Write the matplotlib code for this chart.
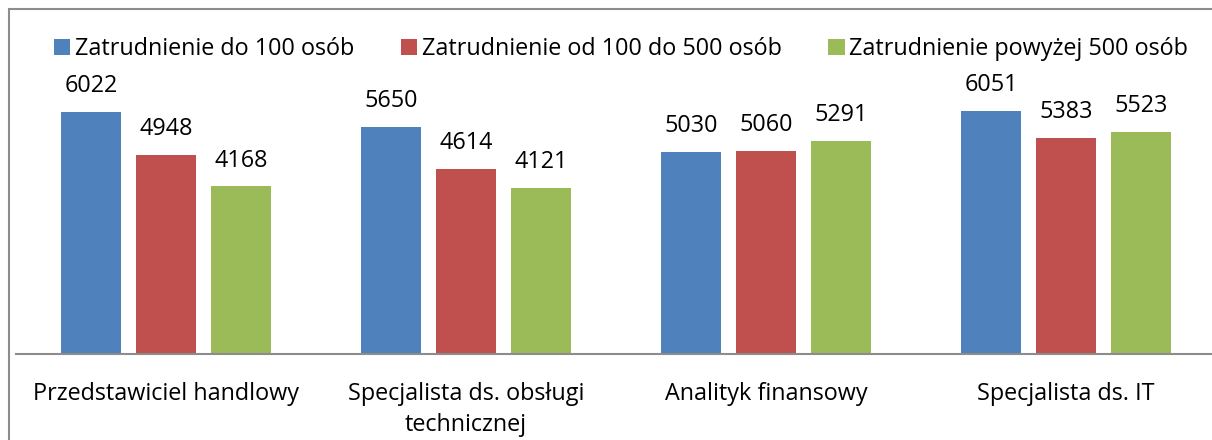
import matplotlib
matplotlib.use("Agg")
import matplotlib.pyplot as plt
import numpy as np
from matplotlib.patches import Rectangle

categories = ["Przedstawiciel handlowy", "Specjalista ds. obsługi\ntechnicznej",
              "Analityk finansowy", "Specjalista ds. IT"]
series_names = ["Zatrudnienie do 100 osób", "Zatrudnienie od 100 do 500 osób",
                "Zatrudnienie powyżej 500 osób"]
small = [6022, 5650, 5030, 6051]
medium = [4948, 4614, 5060, 5383]
large = [4168, 4121, 5291, 5523]
colors = ["#4F81BD", "#C0504D", "#9BBB59"]

plt.rcParams['font.family'] = ['Open Sans', 'DejaVu Sans']
FS = 16.8

W, H = 1212, 440
fig = plt.figure(figsize=(W / 100, H / 100), dpi=100)
ax = fig.add_axes([16 / W, (H - 354) / H, 1200 / W, 281.4 / H])

x = np.arange(len(categories))
bw = 0.2
step = 0.25
handles = []
for i, (vals, name, c) in enumerate(zip([small, medium, large], series_names, colors)):
    bars = ax.bar(x + (i - 1) * step, vals, width=bw, color=c, label=name, zorder=2)
    ax.bar_label(bars, labels=[str(v) for v in vals], padding=10, fontsize=FS, color="black")
    handles.append(bars)

ax.set_xlim(-0.5, 3.5)
ax.set_ylim(0, 7000)
ax.set_yticks([])
ax.set_xticks(x)
ax.set_xticklabels(categories, fontsize=FS, linespacing=1.4)
ax.tick_params(axis='x', length=0, pad=20)
for s in ['top', 'right', 'left']:
    ax.spines[s].set_visible(False)
ax.spines['bottom'].set_color('#8c8c8c')
ax.spines['bottom'].set_linewidth(1.5)

leg = fig.legend(handles=handles, labels=series_names, loc='center',
                 bbox_to_anchor=(621 / W, 1 - 49 / H), ncol=3, frameon=False,
                 fontsize=FS, handlelength=0.7, handleheight=0.7,
                 handletextpad=0.2, columnspacing=2.0)

fig.patches.append(Rectangle((9 / W, -0.1), 1.2, (H - 9) / H + 0.1,
                             transform=fig.transFigure, fill=False,
                             edgecolor='#8c8c8c', linewidth=1.5))

fig.savefig("out.png", dpi=100)
